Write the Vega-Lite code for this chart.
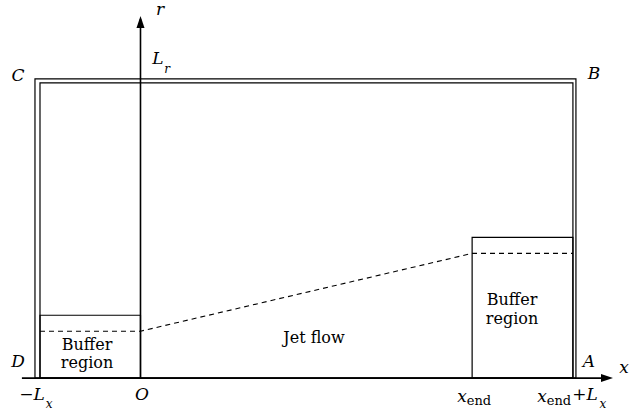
{
  "$schema": "https://vega.github.io/schema/vega-lite/v6.json",
  "width": 629,
  "height": 416,
  "padding": 0,
  "autosize": {"type": "fit", "contains": "padding"},
  "config": {"view": {"stroke": null}, "text": {"font": "DejaVu Serif"}},
  "background": "white",
  "layer": [
    {
      "data": {"values": [
        {"part": "outer", "x": -1.05, "x2": 4.333, "y": 0, "y2": 3.0},
        {"part": "inner", "x": -1.0, "x2": 4.303, "y": 0, "y2": 2.96},
        {"part": "left buffer", "x": -1.0, "x2": 0, "y": 0, "y2": 0.63},
        {"part": "right buffer", "x": 3.3, "x2": 4.303, "y": 0, "y2": 1.41}
      ]},
      "mark": {"type": "rect", "fillOpacity": 0, "stroke": "black", "strokeWidth": 1.2},
      "encoding": {
        "x": {"field": "x", "type": "quantitative", "scale": {"domain": [-1.398, 4.861], "nice": false, "zero": false}, "axis": null},
        "x2": {"field": "x2"},
        "y": {"field": "y", "type": "quantitative", "scale": {"domain": [-0.38, 3.78], "nice": false, "zero": false}, "axis": null},
        "y2": {"field": "y2"}
      }
    },
    {
      "data": {"values": [
        {"x": -1.0, "y": 0.47},
        {"x": 0, "y": 0.47},
        {"x": 3.3, "y": 1.25},
        {"x": 4.303, "y": 1.25}
      ]},
      "mark": {"type": "line", "stroke": "black", "strokeWidth": 1.1, "strokeDash": [5, 4]},
      "encoding": {
        "x": {"field": "x", "type": "quantitative"},
        "y": {"field": "y", "type": "quantitative"}
      }
    },
    {
      "data": {"values": [
        {"axis": "x", "x": -1.18, "x2": 4.66, "y": 0, "y2": 0},
        {"axis": "r", "x": 0, "x2": 0, "y": 0, "y2": 3.6}
      ]},
      "mark": {"type": "rule", "stroke": "black", "strokeWidth": 1.6},
      "encoding": {
        "x": {"field": "x", "type": "quantitative"},
        "x2": {"field": "x2"},
        "y": {"field": "y", "type": "quantitative"},
        "y2": {"field": "y2"}
      }
    },
    {
      "data": {"values": [{"x": 0, "y": 3.57}]},
      "mark": {"type": "point", "shape": "M0,-1L0.67,1L-0.67,1Z", "size": 144, "filled": true, "color": "black", "opacity": 1},
      "encoding": {
        "x": {"field": "x", "type": "quantitative"},
        "y": {"field": "y", "type": "quantitative"}
      }
    },
    {
      "data": {"values": [{"x": 4.642, "y": 0}]},
      "mark": {"type": "point", "shape": "M1,0L-1,0.67L-1,-0.67Z", "size": 144, "filled": true, "color": "black", "opacity": 1},
      "encoding": {
        "x": {"field": "x", "type": "quantitative"},
        "y": {"field": "y", "type": "quantitative"}
      }
    },
    {
      "data": {"values": [
        {"label": "r", "x": 0.194, "y": 3.64},
        {"label": "L", "x": 0.174, "y": 3.15},
        {"label": "C", "x": -1.219, "y": 2.98},
        {"label": "B", "x": 4.513, "y": 3.0},
        {"label": "D", "x": -1.219, "y": 0.11},
        {"label": "A", "x": 4.463, "y": 0.11},
        {"label": "x", "x": 4.811, "y": 0.05},
        {"label": "−L", "x": -1.08, "y": -0.22},
        {"label": "O", "x": 0.015, "y": -0.22},
        {"label": "x", "x": 3.199, "y": -0.24},
        {"label": "x", "x": 3.995, "y": -0.24},
        {"label": "+L", "x": 4.423, "y": -0.22}
      ]},
      "mark": {"type": "text", "fontStyle": "italic", "fontSize": 17, "align": "center", "baseline": "alphabetic", "color": "black"},
      "encoding": {
        "x": {"field": "x", "type": "quantitative"},
        "y": {"field": "y", "type": "quantitative"},
        "text": {"field": "label"}
      }
    },
    {
      "data": {"values": [
        {"label": "r", "x": 0.264, "y": 3.06},
        {"label": "x", "x": -0.91, "y": -0.3},
        {"label": "x", "x": 4.602, "y": -0.3}
      ]},
      "mark": {"type": "text", "fontStyle": "italic", "fontSize": 12, "align": "center", "baseline": "alphabetic", "color": "black"},
      "encoding": {
        "x": {"field": "x", "type": "quantitative"},
        "y": {"field": "y", "type": "quantitative"},
        "text": {"field": "label"}
      }
    },
    {
      "data": {"values": [
        {"label": "end", "x": 3.368, "y": -0.27},
        {"label": "end", "x": 4.164, "y": -0.27}
      ]},
      "mark": {"type": "text", "fontSize": 13, "align": "center", "baseline": "alphabetic", "color": "black"},
      "encoding": {
        "x": {"field": "x", "type": "quantitative"},
        "y": {"field": "y", "type": "quantitative"},
        "text": {"field": "label"}
      }
    },
    {
      "data": {"values": [
        {"label": "Buffer", "x": -0.532, "y": 0.285},
        {"label": "region", "x": -0.532, "y": 0.1},
        {"label": "Buffer", "x": 3.697, "y": 0.73},
        {"label": "region", "x": 3.697, "y": 0.54},
        {"label": "Jet flow", "x": 1.726, "y": 0.35}
      ]},
      "mark": {"type": "text", "fontSize": 16, "align": "center", "baseline": "alphabetic", "color": "black"},
      "encoding": {
        "x": {"field": "x", "type": "quantitative"},
        "y": {"field": "y", "type": "quantitative"},
        "text": {"field": "label"}
      }
    }
  ]
}
